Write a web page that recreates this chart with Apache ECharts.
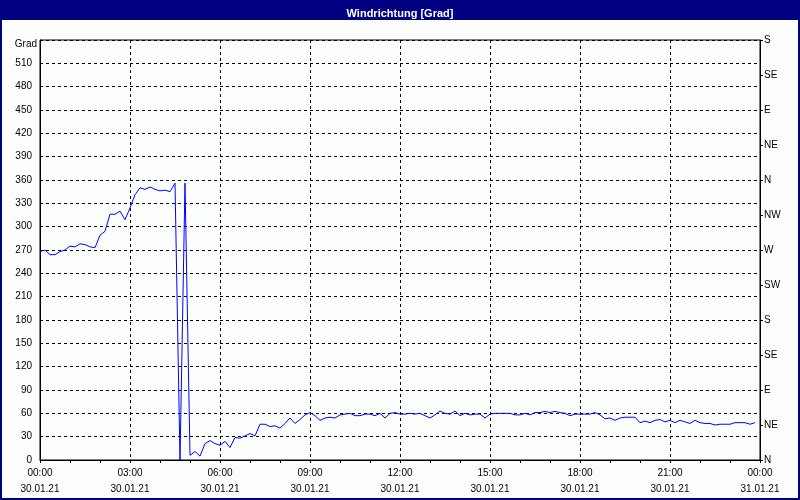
<!DOCTYPE html>
<html>
<head>
<meta charset="utf-8">
<script src="https://cdn.jsdelivr.net/npm/echarts@6/dist/echarts.min.js"></script>
<style>
html,body{margin:0;padding:0;background:#fcfefc;}
#c{width:800px;height:500px;}
</style>
</head>
<body>
<div id="c"></div>
<script>
// Wind direction samples every 10 minutes starting 30.01.21 00:00
const chartTitle = 'Windrichtung [Grad]';
const stepMinutes = 10;
const windDir = [
  268,270,264,264,268,270,275,274,278,277,274,273,   // 00:00-01:50
  289,294,316,316,320,309,324,341,350,348,351,348,   // 02:00-03:50
  346,347,345,356,0,356,6,11,5,21,25,21,             // 04:00-05:50
  19,24,16,29,28,31,34,31,46,46,43,44,               // 06:00-07:50
  41,47,54,47,52,58,61,57,51,54,55,54,               // 08:00-09:50
  58,59,60,57,57,59,59,57,60,54,60,61,               // 10:00-11:50
  59,59,60,59,60,57,54,58,63,60,59,63,               // 12:00-13:50
  57,60,58,59,59,54,59,60,60,60,60,58,               // 14:00-15:50
  58,60,58,61,61,62.5,61,62.5,61,60,57,59,           // 16:00-17:50
  59,59,59,61,58,53,54,51,54,55,55,55,               // 18:00-19:50
  48,50,48,51,52,49,51,48,51,49,47,51,               // 20:00-21:50
  48,47,47,45,46,46,46,48,48,48,46,48                // 22:00-23:50
];
const leftTicks = [0,30,60,90,120,150,180,210,240,270,300,330,360,390,420,450,480,510];
const rightTickLabels = ['N','NE','E','SE','S','SW','W','NW','N','NE','E','SE','S'];
const dateLabels = {0:'30.01.21', 1440:'31.01.21'};
const axisLabelUnit = 'Grad';

const seriesData = windDir.map((v, i) => [i * stepMinutes, v]);

function pad(n){ return (n < 10 ? '0' : '') + n; }
function timeLabel(v){
  const h = Math.floor(v / 60) % 24, m = v % 60;
  const date = v >= 1440 ? dateLabels[1440] : dateLabels[0];
  return pad(h) + ':' + pad(m) + '\n' + date;
}

const font = 'Liberation Sans';
const chart = echarts.init(document.getElementById('c'), null, {renderer: 'canvas'});
chart.setOption({
  backgroundColor: '#fcfefc',
  animation: false,
  title: {
    text: chartTitle,
    left: 'center',
    top: 3,
    textStyle: {color: '#ffffff', fontSize: 11, fontWeight: 'bold', fontFamily: font}
  },
  graphic: [
    {type: 'rect', z: -1, shape: {x: 0, y: 0, width: 800, height: 20}, style: {fill: '#000080'}},
    {type: 'rect', z: 100, shape: {x: 1, y: 1, width: 798, height: 498}, style: {fill: 'none', stroke: '#000080', lineWidth: 2}},
    {type: 'text', left: 'auto', right: 763, top: 39, style: {text: axisLabelUnit, fill: '#000', font: '10px ' + font, textAlign: 'right'}}
  ],
  grid: {left: 40, right: 40, top: 40, bottom: 40, show: true, borderColor: '#000', borderWidth: 1, backgroundColor: 'transparent'},
  xAxis: {
    type: 'value', min: 0, max: 1440, interval: 180,
    axisLine: {show: true, lineStyle: {color: '#000', width: 1}},
    axisTick: {show: true, length: 3, lineStyle: {color: '#000'}},
    minorTick: {show: true, splitNumber: 3, length: 3, lineStyle: {color: '#000'}},
    splitLine: {show: true, lineStyle: {color: '#000', type: [3, 3], width: 1}},
    axisLabel: {formatter: timeLabel, color: '#000', fontSize: 10, fontFamily: font, lineHeight: 16, margin: 5, showMinLabel: true, showMaxLabel: true}
  },
  yAxis: [
    {
      type: 'value', min: 0, max: 540, interval: 30, position: 'left',
      axisLine: {show: true, lineStyle: {color: '#000'}},
      axisTick: {show: false},
      splitLine: {show: true, lineStyle: {color: '#000', type: [3, 3], width: 1}},
      axisLabel: {color: '#000', fontSize: 10, fontFamily: font, margin: 8,
        formatter: v => leftTicks.indexOf(v) >= 0 ? String(v) : ''}
    },
    {
      type: 'value', min: 0, max: 540, interval: 45, position: 'right',
      axisLine: {show: true, lineStyle: {color: '#000'}},
      axisTick: {show: true, length: 3, lineStyle: {color: '#000'}},
      splitLine: {show: false},
      axisLabel: {color: '#000', fontSize: 10, fontFamily: font, margin: 4,
        formatter: v => rightTickLabels[Math.round(v / 45)] || ''}
    }
  ],
  series: [{
    type: 'line', yAxisIndex: 0, data: seriesData, showSymbol: false, symbol: 'none',
    lineStyle: {color: '#0000ff', width: 1}, smooth: false
  }]
});
</script>
</body>
</html>
